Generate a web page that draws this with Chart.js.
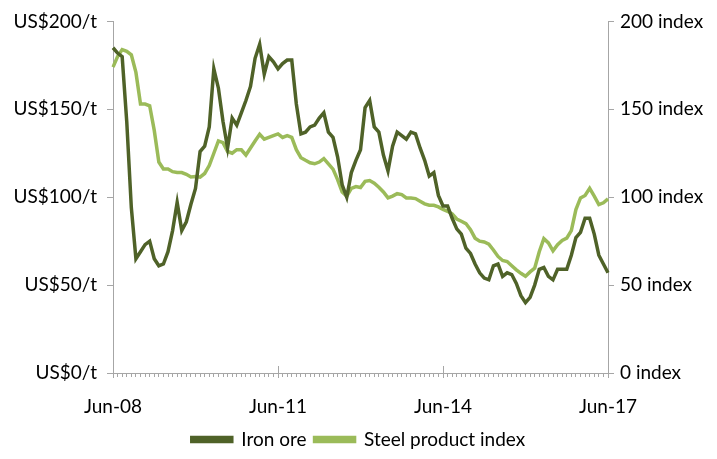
<!DOCTYPE html>
<html lang="en">
<head>
    <meta charset="UTF-8">
    <title>Iron ore and steel product prices</title>
    <script src="https://cdn.jsdelivr.net/npm/chart.js"></script>
    <style>
        body {
            margin: 0;
            background: #ffffff;
        }
    </style>
</head>
<body>
    <canvas id="price-chart" width="717" height="459"></canvas>

    <script>
        // Monthly data, Jun-08 to Jun-17
        const monthNames = ['Jan', 'Feb', 'Mar', 'Apr', 'May', 'Jun', 'Jul', 'Aug', 'Sep', 'Oct', 'Nov', 'Dec'];
        const tickLabels = ['Jun-08', 'Jun-11', 'Jun-14', 'Jun-17'];

        // Iron ore, US$/t (left axis)
        const ironOre = [
            185, 182, 180, 143, 94, 65, 69, 73, 75, 65, 61, 62,
            69, 81, 97, 81, 86, 96, 105, 126, 129, 140, 173, 162,
            143, 128, 145, 141, 148, 155, 163, 179, 187, 170, 180, 177,
            173, 176, 178, 178, 153, 136, 137, 140, 141, 145, 148, 137,
            134, 123, 107, 100, 114, 121, 127, 151, 155, 140, 137, 124,
            115, 129, 137, 135, 133, 137, 136, 128, 121, 112, 114, 101,
            95, 95, 88, 82, 79, 71, 68, 62, 57, 54, 53, 61,
            62, 55, 57, 56, 51, 44, 40, 43, 50, 59, 60, 55,
            53, 59, 59, 59, 67, 77, 80, 88, 88, 79, 67, 62,
            57
        ];

        // Steel product index (right axis)
        const steelIndex = [
            174, 180, 184, 183, 181, 171, 153, 153, 152, 138, 120, 116,
            116, 114.5, 114, 114, 113, 111.5, 111.8, 111.4, 113.5, 118, 125, 132,
            131, 126, 125, 127, 127, 124, 128, 132, 135.8, 133, 134, 135,
            136, 134, 135, 134, 127, 122.5, 121, 119.6, 119, 120, 122, 119,
            116, 110, 103, 100.6, 105, 106, 105.5, 109, 109.5, 108, 105.7, 103,
            99.6, 100.6, 102, 101.5, 99.6, 99.6, 99.2, 97.7, 96.2, 95.4, 95.4, 94.5,
            93, 92, 90.5, 87.6, 86.3, 85, 81.5, 76.7, 75, 74.5, 73.3, 70,
            66.3, 64, 63.4, 61, 58.7, 56.7, 55, 57.5, 59.6, 69, 76.4, 74,
            69.5, 73, 75.4, 76.7, 81, 93, 99.6, 101, 105, 100.6, 95.8, 96.8,
            99
        ];

        const ironColor = '#4f6228';
        const steelColor = '#9bbb59';
        const axisColor = '#a6a6a6';

        // Month labels Jun-08 ... Jun-17
        const labels = [];
        for (let i = 0; i < ironOre.length; i++) {
            const m = (5 + i) % 12;
            const y = 8 + Math.floor((5 + i) / 12);
            labels.push(monthNames[m] + '-' + String(y).padStart(2, '0'));
        }

        // longer tick marks at the labelled months
        const majorTicks = {
            id: 'majorTicks',
            afterDraw(chart) {
                const x = chart.scales.x;
                const ctx = chart.ctx;
                ctx.save();
                ctx.strokeStyle = axisColor;
                ctx.lineWidth = 1;
                labels.forEach((lab, i) => {
                    if (!tickLabels.includes(lab)) return;
                    const px = Math.round(x.getPixelForValue(i)) + 0.5;
                    ctx.beginPath();
                    ctx.moveTo(px, x.top - 7);
                    ctx.lineTo(px, x.top + 5);
                    ctx.stroke();
                });
                ctx.restore();
            }
        };

        const font = { family: 'Lato', size: 19 };

        new Chart(document.getElementById('price-chart'), {
            type: 'line',
            data: {
                labels: labels,
                datasets: [
                    {
                        label: 'Iron ore',
                        data: ironOre,
                        yAxisID: 'y',
                        borderColor: ironColor,
                        backgroundColor: ironColor,
                        borderWidth: 3.5,
                        pointRadius: 0,
                        tension: 0,
                        fill: false,
                    },
                    {
                        label: 'Steel product index',
                        data: steelIndex,
                        yAxisID: 'y2',
                        borderColor: steelColor,
                        backgroundColor: steelColor,
                        borderWidth: 3.5,
                        pointRadius: 0,
                        tension: 0,
                        fill: false,
                    },
                ],
            },
            options: {
                responsive: false,
                animation: false,
                layout: { padding: { top: 13, bottom: 0 } },
                plugins: {
                    tooltip: { enabled: false },
                    legend: {
                        position: 'bottom',
                        labels: {
                            color: '#000',
                            font: font,
                            boxWidth: 40,
                            boxHeight: 4,
                            padding: 8,
                        },
                    },
                },
                scales: {
                    x: {
                        offset: false,
                        border: { color: axisColor },
                        grid: {
                            drawOnChartArea: false,
                            color: axisColor,
                            tickLength: 4,
                        },
                        ticks: {
                            autoSkip: false,
                            maxRotation: 0,
                            color: '#000',
                            font: font,
                            padding: 18,
                            callback: (v, i) => tickLabels.includes(labels[i]) ? labels[i] : '',
                        },
                        afterFit: s => { s.height = 49; },
                    },
                    y: {
                        position: 'left',
                        min: 0,
                        max: 200,
                        border: { color: axisColor },
                        grid: { drawOnChartArea: false, color: axisColor, tickLength: 6 },
                        ticks: {
                            stepSize: 50,
                            color: '#000',
                            font: font,
                            padding: 10,
                            callback: v => 'US$' + v + '/t',
                        },
                        afterFit: s => { s.width = 113; },
                    },
                    y2: {
                        position: 'right',
                        min: 0,
                        max: 200,
                        border: { color: axisColor },
                        grid: { drawOnChartArea: false, color: axisColor, tickLength: 6 },
                        ticks: {
                            stepSize: 50,
                            color: '#000',
                            font: font,
                            padding: 6,
                            callback: v => v + ' index',
                        },
                        afterFit: s => { s.width = 109; },
                    },
                },
            },
            plugins: [majorTicks],
        });
    </script>
</body>
</html>
